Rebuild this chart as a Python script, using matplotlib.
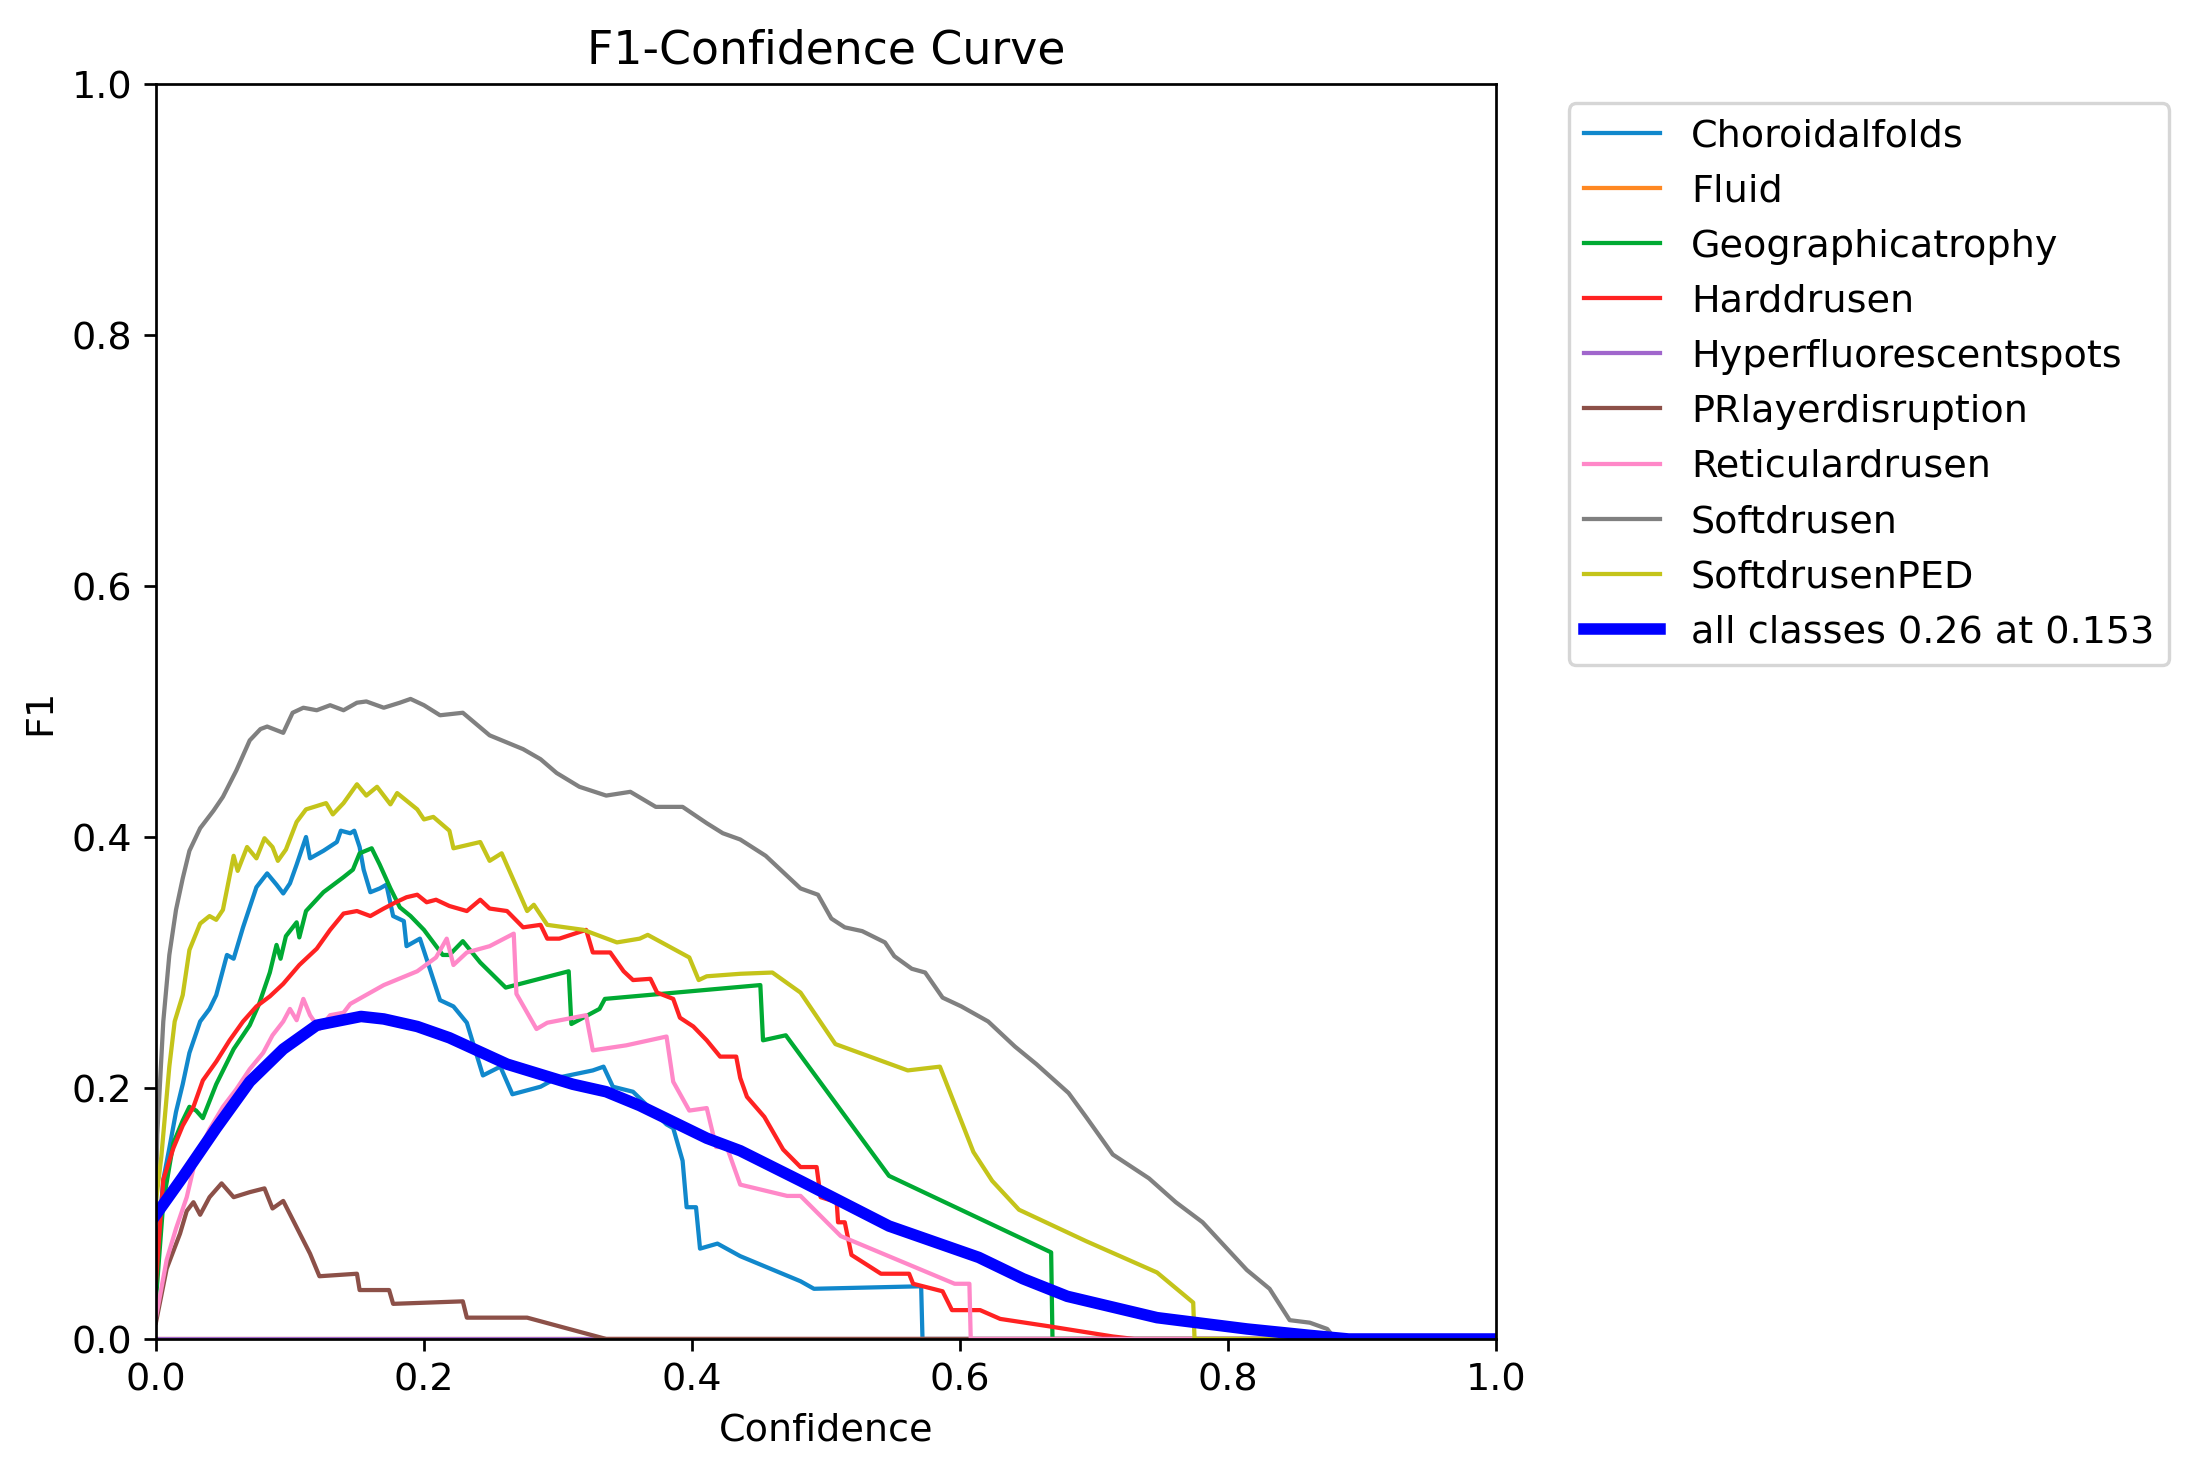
import matplotlib
matplotlib.use("Agg")
import matplotlib.pyplot as plt
import numpy as np

# (confidence, F1) points, one list per class
choroidalfolds = [
    (0, 0.056), (0.0055, 0.127), (0.010, 0.152), (0.015, 0.181), (0.020, 0.203),
    (0.025, 0.228), (0.033, 0.253), (0.040, 0.263), (0.045, 0.274), (0.053, 0.306),
    (0.058, 0.303), (0.065, 0.328), (0.075, 0.360), (0.083, 0.371), (0.090, 0.362),
    (0.095, 0.355), (0.100, 0.363), (0.105, 0.378), (0.112, 0.400), (0.115, 0.383),
    (0.125, 0.389), (0.135, 0.396), (0.138, 0.405), (0.145, 0.403), (0.148, 0.405),
    (0.152, 0.392), (0.155, 0.374), (0.160, 0.356), (0.167, 0.359), (0.172, 0.362),
    (0.177, 0.337), (0.185, 0.333), (0.187, 0.313), (0.197, 0.319), (0.205, 0.293),
    (0.212, 0.270), (0.222, 0.265), (0.232, 0.252), (0.244, 0.210), (0.257, 0.217),
    (0.266, 0.195), (0.287, 0.201), (0.299, 0.208), (0.326, 0.214), (0.334, 0.217),
    (0.341, 0.201), (0.356, 0.197), (0.381, 0.171), (0.386, 0.168), (0.393, 0.142),
    (0.396, 0.105), (0.403, 0.105), (0.406, 0.072), (0.419, 0.076), (0.436, 0.066),
    (0.481, 0.046), (0.491, 0.040), (0.571, 0.042), (0.572, 0.0), (1.0, 0.0),
]
fluid = [(0, 0.0), (1.0, 0.0)]
geographicatrophy = [
    (0, 0.031), (0.0055, 0.109), (0.013, 0.156), (0.020, 0.174), (0.025, 0.185),
    (0.030, 0.182), (0.035, 0.176), (0.045, 0.203), (0.058, 0.231), (0.070, 0.250),
    (0.077, 0.267), (0.085, 0.292), (0.090, 0.314), (0.093, 0.303), (0.097, 0.321),
    (0.105, 0.332), (0.107, 0.320), (0.112, 0.341), (0.125, 0.356), (0.140, 0.368),
    (0.147, 0.374), (0.152, 0.387), (0.161, 0.391), (0.167, 0.378), (0.175, 0.359),
    (0.182, 0.344), (0.190, 0.337), (0.200, 0.326), (0.214, 0.306), (0.219, 0.306),
    (0.229, 0.317), (0.242, 0.300), (0.261, 0.280), (0.308, 0.293), (0.310, 0.251),
    (0.331, 0.263), (0.335, 0.271), (0.451, 0.282), (0.453, 0.238), (0.470, 0.242),
    (0.547, 0.130), (0.668, 0.069), (0.669, 0.0), (1.0, 0.0),
]
harddrusen = [
    (0, 0.045), (0.0055, 0.127), (0.013, 0.152), (0.020, 0.170), (0.028, 0.185),
    (0.035, 0.206), (0.045, 0.221), (0.055, 0.238), (0.065, 0.253), (0.075, 0.265),
    (0.085, 0.273), (0.095, 0.283), (0.107, 0.298), (0.120, 0.311), (0.130, 0.326),
    (0.140, 0.339), (0.150, 0.341), (0.160, 0.337), (0.170, 0.343), (0.179, 0.348),
    (0.187, 0.352), (0.195, 0.354), (0.202, 0.348), (0.209, 0.350), (0.219, 0.345),
    (0.232, 0.341), (0.242, 0.350), (0.249, 0.343), (0.262, 0.341), (0.274, 0.328),
    (0.287, 0.330), (0.292, 0.319), (0.301, 0.319), (0.321, 0.326), (0.326, 0.308),
    (0.339, 0.308), (0.349, 0.293), (0.356, 0.286), (0.369, 0.287), (0.374, 0.276),
    (0.386, 0.271), (0.391, 0.256), (0.401, 0.249), (0.411, 0.238), (0.421, 0.225),
    (0.433, 0.225), (0.436, 0.208), (0.441, 0.193), (0.454, 0.177), (0.468, 0.151),
    (0.481, 0.137), (0.493, 0.137), (0.496, 0.113), (0.508, 0.109), (0.509, 0.093),
    (0.514, 0.093), (0.519, 0.067), (0.541, 0.052), (0.562, 0.052), (0.565, 0.044),
    (0.587, 0.038), (0.594, 0.023), (0.615, 0.023), (0.630, 0.016), (0.667, 0.010),
    (0.714, 0.002), (0.730, 0.0), (1.0, 0.0),
]
hyperfluorescentspots = [(0, 0.0), (1.0, 0.0)]
prlayerdisruption = [
    (0, 0.013), (0.008, 0.056), (0.018, 0.084), (0.023, 0.102), (0.028, 0.109),
    (0.033, 0.099), (0.040, 0.113), (0.049, 0.124), (0.058, 0.113), (0.070, 0.117),
    (0.081, 0.120), (0.087, 0.104), (0.095, 0.110), (0.105, 0.089), (0.115, 0.068),
    (0.122, 0.050), (0.150, 0.052), (0.152, 0.039), (0.174, 0.039), (0.177, 0.028),
    (0.229, 0.030), (0.232, 0.017), (0.277, 0.017), (0.336, 0.0), (1.0, 0.0),
]
reticulardrusen = [
    (0, 0.017), (0.008, 0.063), (0.015, 0.088), (0.023, 0.113), (0.030, 0.145),
    (0.040, 0.167), (0.050, 0.185), (0.060, 0.199), (0.070, 0.215), (0.080, 0.228),
    (0.087, 0.242), (0.095, 0.253), (0.100, 0.263), (0.105, 0.254), (0.110, 0.271),
    (0.115, 0.258), (0.122, 0.247), (0.130, 0.258), (0.140, 0.260), (0.145, 0.267),
    (0.170, 0.282), (0.195, 0.293), (0.209, 0.304), (0.217, 0.319), (0.222, 0.298),
    (0.232, 0.308), (0.249, 0.313), (0.267, 0.323), (0.269, 0.275), (0.284, 0.247),
    (0.292, 0.252), (0.321, 0.258), (0.326, 0.230), (0.351, 0.234), (0.381, 0.241),
    (0.386, 0.205), (0.398, 0.182), (0.411, 0.184), (0.418, 0.153), (0.426, 0.153),
    (0.436, 0.123), (0.471, 0.114), (0.481, 0.114), (0.511, 0.082), (0.596, 0.044),
    (0.607, 0.044), (0.608, 0.0), (1.0, 0.0),
]
softdrusen = [
    (0, 0.105), (0.001, 0.163), (0.0055, 0.253), (0.010, 0.306), (0.015, 0.342),
    (0.020, 0.367), (0.025, 0.389), (0.033, 0.407), (0.043, 0.421), (0.050, 0.432),
    (0.060, 0.453), (0.070, 0.477), (0.078, 0.486), (0.083, 0.488), (0.095, 0.483),
    (0.102, 0.499), (0.110, 0.503), (0.120, 0.501), (0.130, 0.505), (0.140, 0.501),
    (0.150, 0.507), (0.157, 0.508), (0.170, 0.503), (0.182, 0.507), (0.190, 0.510),
    (0.200, 0.505), (0.212, 0.497), (0.229, 0.499), (0.249, 0.481), (0.274, 0.470),
    (0.287, 0.462), (0.299, 0.451), (0.316, 0.440), (0.336, 0.433), (0.354, 0.436),
    (0.373, 0.424), (0.393, 0.424), (0.411, 0.411), (0.423, 0.403), (0.436, 0.398),
    (0.455, 0.385), (0.481, 0.359), (0.494, 0.354), (0.504, 0.335), (0.514, 0.328),
    (0.527, 0.325), (0.544, 0.316), (0.551, 0.305), (0.564, 0.295), (0.574, 0.292),
    (0.587, 0.272), (0.601, 0.265), (0.621, 0.253), (0.641, 0.233), (0.657, 0.219),
    (0.681, 0.196), (0.694, 0.177), (0.714, 0.147), (0.741, 0.128), (0.761, 0.109),
    (0.781, 0.093), (0.794, 0.078), (0.814, 0.055), (0.831, 0.040), (0.846, 0.015),
    (0.861, 0.013), (0.874, 0.008), (0.880, 0.0), (1.0, 0.0),
]
softdrusenped = [
    (0, 0.109), (0.004, 0.145), (0.010, 0.217), (0.014, 0.253), (0.020, 0.274),
    (0.025, 0.310), (0.033, 0.331), (0.040, 0.337), (0.045, 0.334), (0.050, 0.342),
    (0.058, 0.385), (0.061, 0.373), (0.068, 0.392), (0.075, 0.383), (0.081, 0.399),
    (0.087, 0.392), (0.091, 0.381), (0.097, 0.390), (0.105, 0.412), (0.112, 0.422),
    (0.127, 0.427), (0.132, 0.418), (0.140, 0.427), (0.150, 0.442), (0.157, 0.433),
    (0.165, 0.440), (0.175, 0.426), (0.180, 0.435), (0.195, 0.422), (0.200, 0.414),
    (0.207, 0.416), (0.219, 0.405), (0.222, 0.391), (0.242, 0.396), (0.249, 0.381),
    (0.258, 0.387), (0.277, 0.341), (0.282, 0.346), (0.292, 0.330), (0.319, 0.326),
    (0.344, 0.316), (0.361, 0.319), (0.367, 0.322), (0.398, 0.304), (0.405, 0.286),
    (0.411, 0.289), (0.436, 0.291), (0.460, 0.292), (0.481, 0.276), (0.507, 0.235),
    (0.561, 0.214), (0.585, 0.217), (0.610, 0.149), (0.624, 0.126), (0.644, 0.103),
    (0.694, 0.078), (0.747, 0.053), (0.774, 0.029), (0.775, 0.0), (1.0, 0.0),
]
all_classes = [
    (0, 0.099), (0.020, 0.129), (0.045, 0.168), (0.070, 0.205), (0.095, 0.231),
    (0.120, 0.250), (0.153, 0.257), (0.170, 0.255), (0.195, 0.249), (0.219, 0.240),
    (0.262, 0.219), (0.311, 0.203), (0.336, 0.197), (0.361, 0.186), (0.386, 0.173),
    (0.411, 0.160), (0.436, 0.150), (0.481, 0.126), (0.547, 0.090), (0.614, 0.065),
    (0.647, 0.048), (0.680, 0.034), (0.747, 0.017), (0.814, 0.008), (0.860, 0.003),
    (0.890, 0.0), (1.0, 0.0),
]

class_names = ["Choroidalfolds", "Fluid", "Geographicatrophy", "Harddrusen",
               "Hyperfluorescentspots", "PRlayerdisruption", "Reticulardrusen",
               "Softdrusen", "SoftdrusenPED"]
class_curves = [choroidalfolds, fluid, geographicatrophy, harddrusen,
                hyperfluorescentspots, prlayerdisruption, reticulardrusen,
                softdrusen, softdrusenped]
# the reference uses the tab10 cycle, but a bit more saturated
class_colors = ["#1188cc", "#ff8822", "#00aa33", "#ff2222", "#a066cc",
                "#8c5048", "#ff88c8", "#808080", "#c4c41a"]

plt.rcParams["font.size"] = 11.25

fig, ax = plt.subplots(1, 1, figsize=(9, 6.012), dpi=244.35)
fig.subplots_adjust(left=0.0709, right=0.6803, bottom=0.0885, top=0.9428)

for name, curve, c in zip(class_names, class_curves, class_colors):
    x, y = zip(*curve)
    ax.plot(x, y, linewidth=1.25, color=c, label=name)

ax_x, ax_y = map(np.array, zip(*all_classes))
i = ax_y.argmax()
ax.plot(ax_x, ax_y, linewidth=3.4, color="blue",
        label=f"all classes {ax_y[i]:.2f} at {ax_x[i]:.3f}")

ax.set_xlabel("Confidence")
ax.set_ylabel("F1")
ax.set_xlim(0, 1)
ax.set_ylim(0, 1)
ax.legend(bbox_to_anchor=(1.04, 1), loc="upper left")
ax.set_title("F1-Confidence Curve")

fig.savefig("out.png", dpi=244.35)
